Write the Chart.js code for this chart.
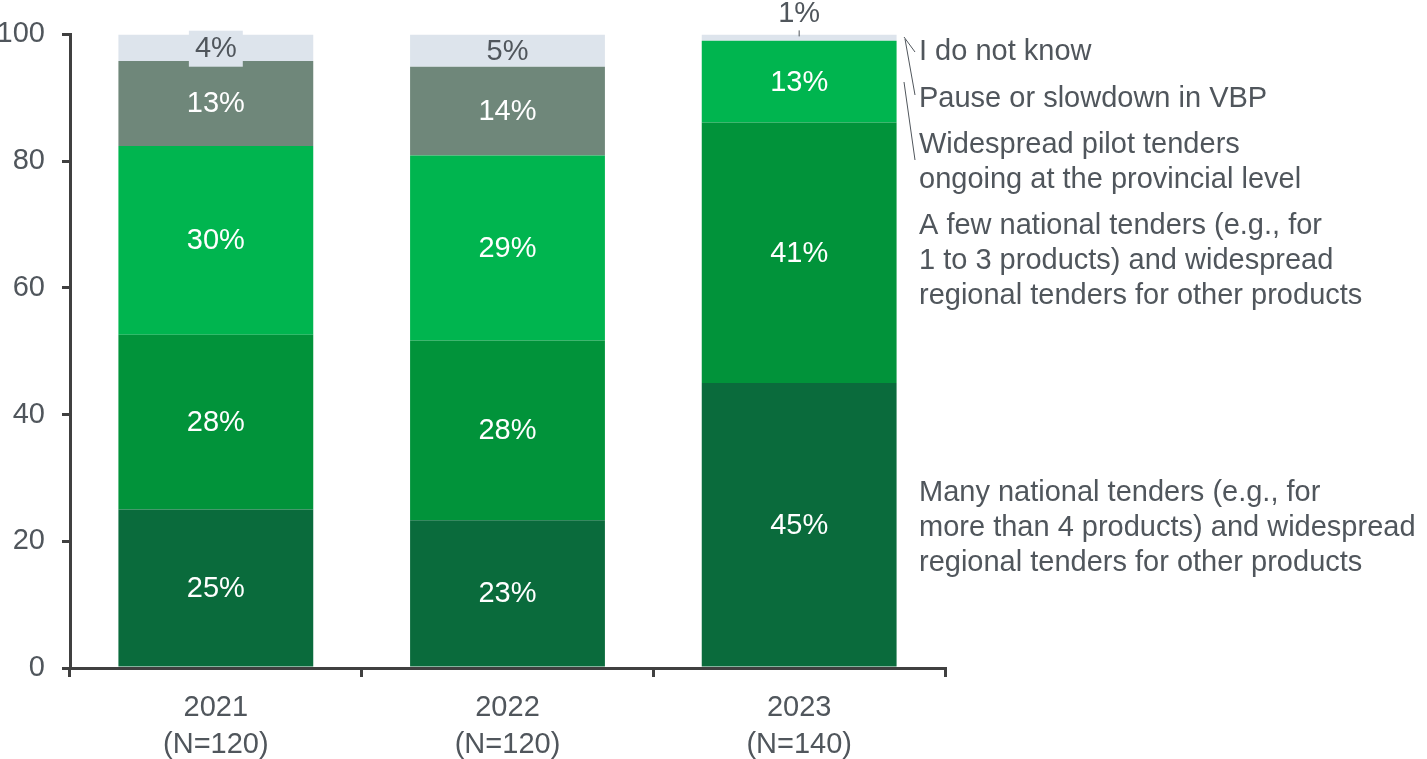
<!DOCTYPE html>
<html>
<head>
<meta charset="utf-8">
<script src="https://cdn.jsdelivr.net/npm/chart.js@4.4.1/dist/chart.umd.min.js"></script>
<style>
  html, body { margin: 0; padding: 0; background: #ffffff; }
  #wrap { width: 1427px; height: 759px; position: relative; }
</style>
</head>
<body>
<div id="wrap"><canvas id="c" width="1427" height="759"></canvas></div>
<script>
// ---- Data ----
const categories = [['2021', '(N=120)'], ['2022', '(N=120)'], ['2023', '(N=140)']];
const manyNational   = [25.0, 23.3, 45.0];
const fewNational    = [27.6, 28.4, 41.1];
const pilotTenders   = [29.8, 29.2, 12.9];
const pauseSlowdown  = [13.4, 14.0, 0];
const doNotKnow      = [4.2, 5.1, 1.0];
const seriesNames = [
  'Many national tenders (e.g., for more than 4 products) and widespread regional tenders for other products',
  'A few national tenders (e.g., for 1 to 3 products) and widespread regional tenders for other products',
  'Widespread pilot tenders ongoing at the provincial level',
  'Pause or slowdown in VBP',
  'I do not know'
];
const yTicks = [0, 20, 40, 60, 80, 100];

// ---- Styles ----
const colors = ['#0a6b3c', '#01933a', '#00b54f', '#6f877a', '#dde4ec'];
const labelColors = ['#ffffff', '#ffffff', '#ffffff', '#ffffff', '#50565c'];
const textColor = '#50565c';
const axisColor = '#404040';
const FONT = '"Liberation Sans", Arial, sans-serif';
const FS = 29;

const legendLines = [
  { lines: ['I do not know'], y: 52 },
  { lines: ['Pause or slowdown in VBP'], y: 99 },
  { lines: ['Widespread pilot tenders', 'ongoing at the provincial level'], y: 145 },
  { lines: ['A few national tenders (e.g., for', '1 to 3 products) and widespread', 'regional tenders for other products'], y: 226 },
  { lines: ['Many national tenders (e.g., for', 'more than 4 products) and widespread', 'regional tenders for other products'], y: 493 }
];

const labelPlugin = {
  id: 'segLabels',
  afterDatasetsDraw(chart) {
    const ctx = chart.ctx;
    ctx.save();
    ctx.font = FS + 'px ' + FONT;
    ctx.textAlign = 'center';
    ctx.textBaseline = 'middle';
    chart.data.datasets.forEach((ds, di) => {
      const meta = chart.getDatasetMeta(di);
      meta.data.forEach((bar, i) => {
        const v = ds.data[i];
        if (!v) return;
        const txt = Math.round(v) + '%';
        const top = Math.min(bar.y, bar.base);
        const bottom = Math.max(bar.y, bar.base);
        if (v < 2) {
          const ty = top - 20;
          ctx.fillStyle = textColor;
          ctx.fillText(txt, bar.x, ty);
          ctx.strokeStyle = textColor;
          ctx.lineWidth = 1;
          ctx.beginPath();
          ctx.moveTo(bar.x, ty + 16);
          ctx.lineTo(bar.x, top + 2);
          ctx.stroke();
          return;
        }
        const cy = (top + bottom) / 2 + 1;
        if (di === 4 && bottom - top < 30) {
          const w = ctx.measureText(txt).width + 12;
          ctx.fillStyle = colors[4];
          ctx.fillRect(bar.x - w / 2, cy - 18, w, 36);
        }
        ctx.fillStyle = labelColors[di];
        ctx.fillText(txt, bar.x, cy);
      });
    });

    // right-side legend texts
    ctx.textAlign = 'left';
    ctx.fillStyle = textColor;
    legendLines.forEach(item => {
      item.lines.forEach((l, k) => ctx.fillText(l, 919, item.y + k * 35));
    });

    // leader lines
    ctx.strokeStyle = textColor;
    ctx.lineWidth = 1;
    const segs = [[904, 37, 915, 52], [905, 39, 915, 95], [904, 82, 915, 160]];
    segs.forEach(s => {
      ctx.beginPath();
      ctx.moveTo(s[0], s[1]);
      ctx.lineTo(s[2], s[3]);
      ctx.stroke();
    });
    ctx.restore();
  }
};

const datasets = [manyNational, fewNational, pilotTenders, pauseSlowdown, doNotKnow].map((d, i) => ({
  label: seriesNames[i],
  data: d,
  backgroundColor: colors[i],
  borderWidth: 0,
  barPercentage: 0.668,
  categoryPercentage: 1.0
}));

new Chart(document.getElementById('c'), {
  type: 'bar',
  data: { labels: categories, datasets },
  plugins: [labelPlugin],
  options: {
    responsive: false,
    animation: false,
    layout: { padding: { left: 0, right: 482, top: 34, bottom: 0 } },
    plugins: { legend: { display: false }, tooltip: { enabled: false } },
    scales: {
      x: {
        stacked: true,
        grid: { display: true, drawOnChartArea: false, offset: true, color: axisColor, lineWidth: 3, tickLength: 9 },
        border: { display: true, color: axisColor, width: 3 },
        ticks: { color: textColor, font: { family: FONT, size: FS, lineHeight: 1.28 }, padding: 12 },
        afterFit(scale) { scale.height = 91; }
      },
      y: {
        stacked: true,
        min: 0,
        max: 100,
        afterBuildTicks(scale) { scale.ticks = yTicks.map(v => ({ value: v })); },
        grid: { display: true, drawOnChartArea: false, color: axisColor, lineWidth: 3, tickLength: 8 },
        border: { display: true, color: axisColor, width: 3 },
        ticks: { color: textColor, font: { family: FONT, size: FS }, padding: 17 },
        afterFit(scale) { scale.width = 70; }
      }
    }
  }
});
</script>
</body>
</html>
